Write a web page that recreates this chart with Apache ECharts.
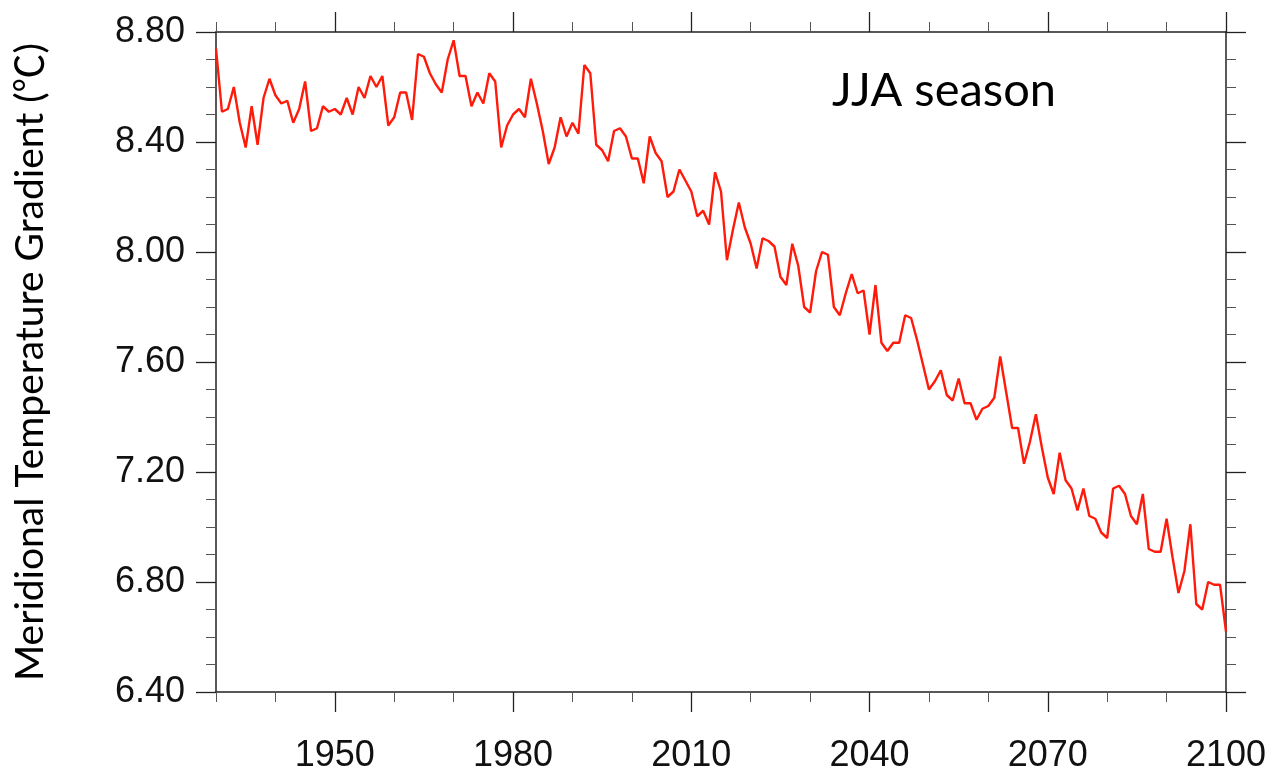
<!DOCTYPE html>
<html>
<head>
<meta charset="utf-8">
<title>Meridional Temperature Gradient – JJA</title>
<script src="https://cdn.jsdelivr.net/npm/echarts@6/dist/echarts.min.js"></script>
<style>
  html, body { margin: 0; padding: 0; background: #fff; }
  #chart { width: 1274px; height: 774px; }
</style>
</head>
<body>
<div id="chart"></div>
<script>
// Annual JJA meridional temperature gradient, 1930–2100
const firstYear = 1930;
const lastYear = 2100;
const gradient = [
  8.74, 8.51, 8.52, 8.60, 8.47, 8.38, 8.53, 8.39, 8.56, 8.63, // 1930s
  8.57, 8.54, 8.55, 8.47, 8.52, 8.62, 8.44, 8.45, 8.53, 8.51, // 1940s
  8.52, 8.50, 8.56, 8.50, 8.60, 8.56, 8.64, 8.60, 8.64, 8.46, // 1950s
  8.49, 8.58, 8.58, 8.48, 8.72, 8.71, 8.65, 8.61, 8.58, 8.70, // 1960s
  8.77, 8.64, 8.64, 8.53, 8.58, 8.54, 8.65, 8.62, 8.38, 8.46, // 1970s
  8.50, 8.52, 8.49, 8.63, 8.54, 8.44, 8.32, 8.38, 8.49, 8.42, // 1980s
  8.47, 8.43, 8.68, 8.65, 8.39, 8.37, 8.33, 8.44, 8.45, 8.42, // 1990s
  8.34, 8.34, 8.25, 8.42, 8.36, 8.33, 8.20, 8.22, 8.30, 8.26, // 2000s
  8.22, 8.13, 8.15, 8.10, 8.29, 8.22, 7.97, 8.08, 8.18, 8.09, // 2010s
  8.03, 7.94, 8.05, 8.04, 8.02, 7.91, 7.88, 8.03, 7.95, 7.80, // 2020s
  7.78, 7.93, 8.00, 7.99, 7.80, 7.77, 7.85, 7.92, 7.85, 7.86, // 2030s
  7.70, 7.88, 7.67, 7.64, 7.67, 7.67, 7.77, 7.76, 7.68, 7.59, // 2040s
  7.50, 7.53, 7.57, 7.48, 7.46, 7.54, 7.45, 7.45, 7.39, 7.43, // 2050s
  7.44, 7.47, 7.62, 7.49, 7.36, 7.36, 7.23, 7.31, 7.41, 7.29, // 2060s
  7.18, 7.12, 7.27, 7.17, 7.14, 7.06, 7.14, 7.04, 7.03, 6.98, // 2070s
  6.96, 7.14, 7.15, 7.12, 7.04, 7.01, 7.12, 6.92, 6.91, 6.91, // 2080s
  7.03, 6.89, 6.76, 6.84, 7.01, 6.72, 6.70, 6.80, 6.79, 6.79, // 2090s
  6.62                                                        // 2100
];
const yearLabels = [1950, 1980, 2010, 2040, 2070, 2100];
const yMin = 6.4, yMax = 8.8, yStep = 0.4;

const points = gradient.map((v, i) => [firstYear + i, v]);

const AXIS_COLOR = '#222';
const TICK_FONT = 'Liberation Sans, Arial, Helvetica, sans-serif';
const TITLE_FONT = 'Lato, "Noto Sans CJK SC", sans-serif';

function minorXAxis(position) {
  return {
    type: 'value', position, min: firstYear, max: lastYear, interval: 10,
    axisLine: { show: true, onZero: false, lineStyle: { color: AXIS_COLOR, width: 1.5 } },
    axisTick: { show: true, inside: false, length: 10, lineStyle: { color: '#555', width: 1 } },
    axisLabel: { show: false },
    splitLine: { show: false }
  };
}
function majorXAxis(position, withLabels) {
  return {
    type: 'value', position, min: firstYear, max: lastYear,
    axisLine: { show: false, onZero: false },
    axisTick: { show: true, inside: false, length: 20, customValues: yearLabels,
                lineStyle: { color: AXIS_COLOR, width: 1.3 } },
    axisLabel: { show: withLabels, customValues: yearLabels, margin: 46,
                 fontFamily: TICK_FONT, fontSize: 36, color: '#111',
                 formatter: v => String(v),
                 showMinLabel: true, showMaxLabel: true },
    splitLine: { show: false }
  };
}
function yAxis(position, withLabels) {
  return {
    type: 'value', position, min: yMin, max: yMax, interval: yStep,
    axisLine: { show: true, onZero: false, lineStyle: { color: AXIS_COLOR, width: 1.5 } },
    axisTick: { show: true, inside: false, length: 20, lineStyle: { color: AXIS_COLOR, width: 1.3 } },
    minorTick: { show: true, splitNumber: 4, length: 10, lineStyle: { color: '#555', width: 1 } },
    axisLabel: { show: withLabels, margin: 31, fontFamily: TICK_FONT, fontSize: 36, color: '#111',
                 formatter: v => v.toFixed(2) },
    splitLine: { show: false }, minorSplitLine: { show: false }
  };
}

const chart = echarts.init(document.getElementById('chart'), null, { renderer: 'canvas' });
chart.setOption({
  animation: false,
  backgroundColor: '#fff',
  grid: { left: 216, right: 48, top: 32, bottom: 80, containLabel: false },
  xAxis: [
    minorXAxis('bottom'),
    majorXAxis('bottom', true),
    minorXAxis('top'),
    majorXAxis('top', false)
  ],
  yAxis: [
    Object.assign(yAxis('left', true), {
      name: 'Meridional Temperature Gradient (℃)',
      nameLocation: 'middle', nameRotate: 90, nameGap: 166,
      nameTextStyle: { fontFamily: TITLE_FONT, fontSize: 39, color: '#000' }
    }),
    yAxis('right', false)
  ],
  graphic: [{
    type: 'text', left: 832, top: 67,
    style: { text: 'JJA season', fontFamily: TITLE_FONT, fontSize: 47, fill: '#000' }
  }],
  series: [{
    type: 'line', xAxisIndex: 0, yAxisIndex: 0,
    data: points, showSymbol: false, symbol: 'none',
    lineStyle: { color: '#ff1a0a', width: 2.4 },
    z: 1
  }]
});
</script>
</body>
</html>
